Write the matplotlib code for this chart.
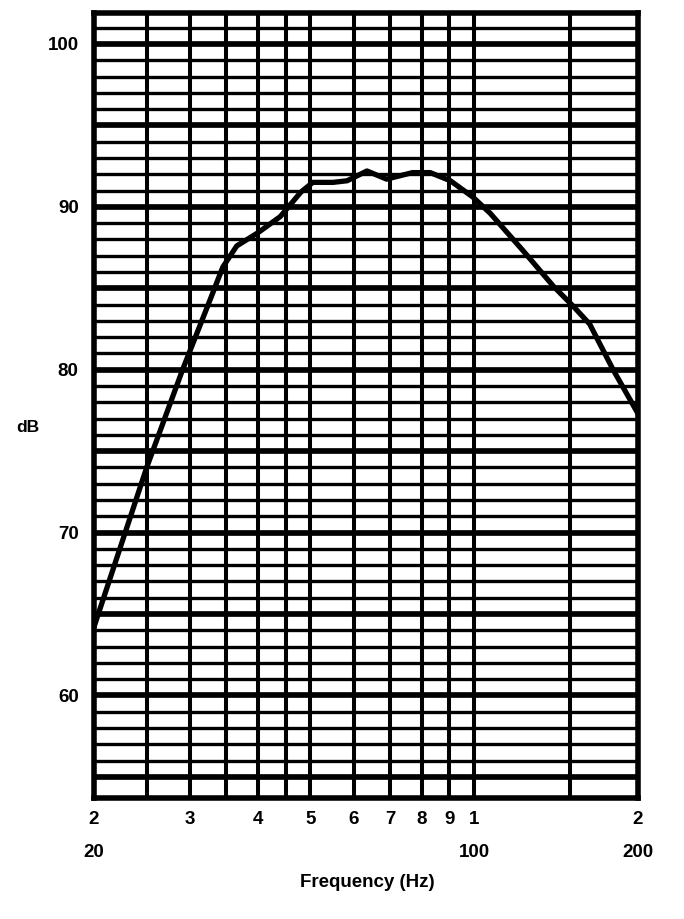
import matplotlib
matplotlib.use('Agg')
import matplotlib.pyplot as plt
import matplotlib.transforms as mtransforms
from matplotlib.ticker import FixedLocator, FixedFormatter, NullFormatter

# ---- data ----
freq_hz = [20, 25, 29.1, 32.7, 34.5, 36.6, 40, 44, 48, 50.5, 55, 58.4, 63.5,
           69, 77, 83, 90.4, 99.4, 107, 123, 140, 152, 163, 180, 200]
level_db = [64.2, 74.0, 80.0, 84.3, 86.3, 87.6, 88.4, 89.4, 90.9, 91.5, 91.5,
            91.6, 92.2, 91.7, 92.1, 92.1, 91.6, 90.6, 89.6, 87.3, 85.1, 83.9,
            82.8, 80.0, 77.3]

x_major = [20, 30, 40, 50, 60, 70, 80, 90, 100, 200]
x_major_labels = ['2', '3', '4', '5', '6', '7', '8', '9', '1', '2']
x_minor = [25, 35, 45, 150]
x_decade = [20, 100, 200]
x_decade_labels = ['20', '100', '200']
y_major = [55, 60, 65, 70, 75, 80, 85, 90, 95, 100]
y_major_labels = ['', '60', '', '70', '', '80', '', '90', '', '100']
y_minor = list(range(55, 102))

plt.rcParams['font.family'] = ['Liberation Sans', 'DejaVu Sans']

fig = plt.figure(figsize=(6.84, 9.19), dpi=100)
ax = fig.add_axes([94 / 684, 1 - 798 / 919, 544 / 684, 785 / 919])
ax.set_xscale('log')
ax.set_xlim(20, 200)
ax.set_ylim(53.7, 101.9)

ax.xaxis.set_major_locator(FixedLocator(x_major))
ax.xaxis.set_major_formatter(FixedFormatter(x_major_labels))
ax.xaxis.set_minor_locator(FixedLocator(x_minor))
ax.xaxis.set_minor_formatter(NullFormatter())
ax.yaxis.set_major_locator(FixedLocator(y_major))
ax.yaxis.set_major_formatter(FixedFormatter(y_major_labels))
ax.yaxis.set_minor_locator(FixedLocator(y_minor))
ax.yaxis.set_minor_formatter(NullFormatter())

ax.grid(which='major', axis='y', color='black', lw=4.1)
ax.grid(which='minor', axis='y', color='black', lw=2.4)
ax.grid(which='both', axis='x', color='black', lw=2.9)

ax.tick_params(which='both', length=0)
ax.tick_params(axis='x', pad=9, labelsize=13.5)
ax.tick_params(axis='y', pad=11, labelsize=13.5)
for lab in ax.get_xticklabels() + ax.get_yticklabels():
    lab.set_fontweight('bold')

for sp in ax.spines.values():
    sp.set_linewidth(4)

ax.plot(freq_hz, level_db, color='black', lw=3.8, solid_joinstyle='round',
        solid_capstyle='round', zorder=5)

trans = mtransforms.blended_transform_factory(ax.transData, ax.transAxes)
for f, lab in zip(x_decade, x_decade_labels):
    ax.text(f, -0.070, lab, transform=trans, ha='center', va='center',
            fontsize=13.5, fontweight='bold')

ax.set_xlabel('Frequency (Hz)', fontsize=13.5, fontweight='bold')
ax.xaxis.set_label_coords(0.503, -0.108)
ax.xaxis.label.set_va('center')
ax.set_ylabel('dB', rotation=0, fontsize=12.5, fontweight='bold')
ax.yaxis.set_label_coords(-0.122, 0.472)
ax.yaxis.label.set_va('center')

fig.savefig('out.png', dpi=100)
